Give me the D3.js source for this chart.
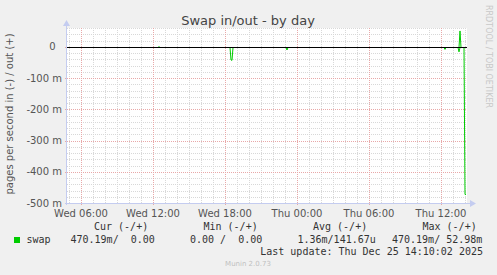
<!DOCTYPE html>
<html>
<head>
<meta charset="utf-8">
<script src="https://cdn.jsdelivr.net/npm/d3@7"></script>
<style>
  body { margin: 0; background: #f0f0f0; }
  svg { display: block; font-family: "DejaVu Sans", sans-serif; }
  .mono { font-family: "DejaVu Sans Mono", monospace; font-size: 10px; fill: #333; white-space: pre; }
</style>
</head>
<body>
<svg width="497" height="275"></svg>
<script>
'use strict';

var parse = d3.timeParse('%Y-%m-%d %H:%M');

// time window of the graph (300 s per pixel, 400 px)
var startTime = parse('2025-12-24 04:50');
var endTime = parse('2025-12-25 14:10');

// y ticks (pages per second) and their labels
var yTicks = [0, -0.1, -0.2, -0.3, -0.4, -0.5];
var yTickLabels = ['0\u00a0\u00a0', '-100 m', '-200 m', '-300 m', '-400 m', '-500 m'];

// x ticks and labels
var xTicks = ['2025-12-24 06:00', '2025-12-24 12:00', '2025-12-24 18:00',
              '2025-12-25 00:00', '2025-12-25 06:00', '2025-12-25 12:00'];
var xTickLabels = ['Wed 06:00', 'Wed 12:00', 'Wed 18:00', 'Thu 00:00', 'Thu 06:00', 'Thu 12:00'];

// swap in (drawn negative)
var inTimes = ['2025-12-24 04:50', '2025-12-24 18:25', '2025-12-24 18:30', '2025-12-24 18:35',
               '2025-12-24 18:40', '2025-12-24 23:05', '2025-12-24 23:10', '2025-12-24 23:15',
               '2025-12-25 12:15', '2025-12-25 12:20', '2025-12-25 12:25', '2025-12-25 13:25',
               '2025-12-25 13:30', '2025-12-25 13:35', '2025-12-25 13:55', '2025-12-25 14:00',
               '2025-12-25 14:05'];
var inValues = [0, 0, 0.040, 0.041, 0, 0, 0.008, 0, 0, 0.006, 0, 0, 0.014, 0, 0, 0.47019, 0.47019];

// swap out (drawn positive)
var outTimes = ['2025-12-24 04:50', '2025-12-24 12:25', '2025-12-24 12:30', '2025-12-24 12:35',
                '2025-12-25 13:30', '2025-12-25 13:35', '2025-12-25 13:40', '2025-12-25 14:05'];
var outValues = [0, 0, 0.003, 0, 0, 0.05298, 0, 0];

// legend
var legendHeads = ['Cur (-/+)', 'Min (-/+)', 'Avg (-/+)', 'Max (-/+)'];
var legendValues = ['470.19m/  0.00', '0.00 /  0.00', '1.36m/141.67u', '470.19m/ 52.98m'];
var seriesName = 'swap';
var lastUpdate = 'Last update: Thu Dec 25 14:10:02 2025';

var svg = d3.select('svg');
var margin = {left: 67, right: 467, top: 28, bottom: 203};

var x = d3.scaleTime().domain([startTime, endTime]).range([margin.left, margin.right]);
var y = d3.scaleLinear().domain([-0.5, 0.06]).range([margin.bottom, margin.top]);

function px(v) { return Math.round(v) + 0.5; }

// plot background
svg.append('rect')
  .attr('x', margin.left).attr('y', margin.top)
  .attr('width', margin.right - margin.left).attr('height', margin.bottom - margin.top)
  .attr('fill', '#fff');

var grid = svg.append('g');

// minor grid: hourly and every 20 m
var hours = d3.timeHour.range(startTime, endTime);
grid.selectAll('.vminor').data(hours).enter().append('line')
  .attr('x1', function(d) { return px(x(d)); }).attr('x2', function(d) { return px(x(d)); })
  .attr('y1', margin.top).attr('y2', margin.bottom)
  .attr('stroke', '#d8d8d8').attr('stroke-dasharray', '1,1');

var minorY = d3.range(-0.5, 0.0601, 0.02);
grid.selectAll('.hminor').data(minorY).enter().append('line')
  .attr('y1', function(d) { return px(y(d)); }).attr('y2', function(d) { return px(y(d)); })
  .attr('x1', margin.left).attr('x2', margin.right)
  .attr('stroke', '#d8d8d8').attr('stroke-dasharray', '1,1');

// major grid
grid.selectAll('.vmajor').data(xTicks).enter().append('line')
  .attr('x1', function(d) { return px(x(parse(d))); }).attr('x2', function(d) { return px(x(parse(d))); })
  .attr('y1', margin.top).attr('y2', margin.bottom + 2)
  .attr('stroke', '#e8a8a8').attr('stroke-dasharray', '1,1');

grid.selectAll('.hmajor').data(yTicks).enter().append('line')
  .attr('y1', function(d) { return px(y(d)); }).attr('y2', function(d) { return px(y(d)); })
  .attr('x1', margin.left - 2).attr('x2', margin.right)
  .attr('stroke', '#e8a8a8').attr('stroke-dasharray', '1,1');

// data lines, nudged so the zero level sits on the pixel row of the zero rule
var line = d3.line()
  .x(function(d) { return x(d.t); })
  .y(function(d) { return y(d.v); });

var inData = inTimes.map(function(t, i) { return {t: parse(t), v: -inValues[i]}; });
var outData = outTimes.map(function(t, i) { return {t: parse(t), v: outValues[i]}; });

var nudge = px(y(0)) - y(0);
var lines = svg.append('g').attr('transform', 'translate(0,' + nudge + ')');
lines.append('path').datum(inData).attr('d', line)
  .attr('fill', 'none').attr('stroke', '#00cc00').attr('stroke-width', 1);
lines.append('path').datum(outData).attr('d', line)
  .attr('fill', 'none').attr('stroke', '#00cc00').attr('stroke-width', 1);

// zero rule
svg.append('line')
  .attr('x1', margin.left).attr('x2', margin.right)
  .attr('y1', px(y(0))).attr('y2', px(y(0)))
  .attr('stroke', '#000');

// axes with arrows
var axisColor = '#c4ccf0';
svg.append('line')
  .attr('x1', margin.left - 0.5).attr('x2', margin.left - 0.5)
  .attr('y1', margin.bottom + 2).attr('y2', margin.top - 4)
  .attr('stroke', axisColor);
svg.append('path')
  .attr('d', 'M' + (margin.left - 4) + ',' + (margin.top - 2) + 'L' + (margin.left - 0.5) + ',' + (margin.top - 8) +
    'L' + (margin.left + 3) + ',' + (margin.top - 2) + 'Z')
  .attr('fill', axisColor);
svg.append('line')
  .attr('x1', margin.left - 2).attr('x2', margin.right + 5)
  .attr('y1', margin.bottom + 0.5).attr('y2', margin.bottom + 0.5)
  .attr('stroke', axisColor);
svg.append('path')
  .attr('d', 'M' + (margin.right + 3) + ',' + (margin.bottom - 3) + 'L' + (margin.right + 9) + ',' + (margin.bottom + 0.5) +
    'L' + (margin.right + 3) + ',' + (margin.bottom + 4) + 'Z')
  .attr('fill', axisColor);

// tick labels
svg.selectAll('.ylab').data(yTicks).enter().append('text')
  .attr('x', 62).attr('y', function(d) { return y(d) + 3.6; })
  .attr('text-anchor', 'end').style('white-space', 'pre')
  .attr('font-size', 10).attr('fill', '#555')
  .text(function(d, i) { return yTickLabels[i]; });

svg.selectAll('.xlab').data(xTicks).enter().append('text')
  .attr('x', function(d) { return x(parse(d)); }).attr('y', 216.5)
  .attr('text-anchor', 'middle')
  .attr('font-size', 10).attr('fill', '#555')
  .text(function(d, i) { return xTickLabels[i]; });

// title and axis label
svg.append('text')
  .attr('x', 248).attr('y', 24.5).attr('text-anchor', 'middle')
  .attr('font-size', 13).attr('fill', '#444')
  .text('Swap in/out - by day');

svg.append('text')
  .attr('transform', 'translate(13,114) rotate(-90)')
  .attr('text-anchor', 'middle')
  .attr('font-size', 10).attr('fill', '#555')
  .text('pages per second in (-) / out (+)');

svg.append('text')
  .attr('transform', 'translate(485.5,5) rotate(90)')
  .attr('font-size', 8).attr('fill', '#c8c8c8')
  .text('RRDTOOL / TOBI OETIKER');

// legend
var headX = [94, 203.5, 313, 422.5];
svg.selectAll('.lhead').data(legendHeads).enter().append('text')
  .attr('class', 'mono').attr('x', function(d, i) { return headX[i]; }).attr('y', 230)
  .text(function(d) { return d; });

svg.append('rect').attr('x', 14).attr('y', 237).attr('width', 6).attr('height', 6).attr('fill', '#00cc00');
svg.append('text').attr('class', 'mono').attr('x', 26.5).attr('y', 242.5).text(seriesName);

var valX = [70.5, 190, 297.5, 392];
svg.selectAll('.lval').data(legendValues).enter().append('text')
  .attr('class', 'mono').attr('x', function(d, i) { return valX[i]; }).attr('y', 242.5)
  .text(function(d) { return d; });

svg.append('text').attr('class', 'mono').attr('x', 483).attr('y', 255)
  .attr('text-anchor', 'end').text(lastUpdate);

svg.append('text')
  .attr('x', 248).attr('y', 266).attr('text-anchor', 'middle')
  .attr('font-size', 7).attr('fill', '#c0c0c0')
  .text('Munin 2.0.73');
</script>
</body>
</html>
